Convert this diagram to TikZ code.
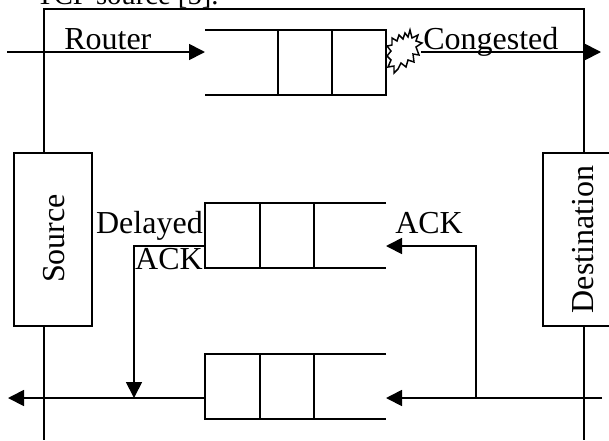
\documentclass[tikz,border=0pt]{standalone}
\usepackage{fontspec}
\setmainfont{Liberation Serif}
\usetikzlibrary{arrows.meta}
\tikzset{
  wire/.style={line width=1.3pt},
  flow/.style={wire,-{Triangle[length=12pt,width=12pt]}},
  hostbox/.style={draw,line width=1.3pt,fill=white,minimum width=58pt,minimum height=130pt,inner sep=0pt},
  txt/.style={font=\fontsize{24}{24}\selectfont,inner sep=0pt}
}
\begin{document}
\begin{tikzpicture}[x=.75pt,y=-.75pt]
  \useasboundingbox (0,0) rectangle (609,440);
  \begin{scope}
    \clip (0,0) rectangle (609,440);
    \node[txt,font=\fontsize{21.5}{24}\selectfont,anchor=base west] (title) at (36,4) {TCP source [5].};
    \node[hostbox] (src) at (53,239.5) {};
    \node[hostbox,minimum width=50.5pt,anchor=west] (dst) at (542,239.5) {};
    \coordinate (lt) at (44,9);
    \coordinate (rt) at (584,9);
    \coordinate (lb) at (44,440);
    \coordinate (rb) at (584,440);
    \draw[wire] (src.north -| lt) -- (lt) -- (rt) -- (dst.north -| rt);
    \draw[wire] (src.south -| lb) -- (lb);
    \draw[wire] (dst.south -| rb) -- (rb);
    \node[txt,rotate=90] (srct) at (54,238.5) {Source};
    \node[txt,rotate=90] (dstt) at (583,239.5) {Destination};
  \end{scope}
  % top queue
  \coordinate (qa1) at (205,30);
  \coordinate (qa2) at (386,30);
  \coordinate (qa3) at (386,95);
  \coordinate (qa4) at (205,95);
  \coordinate (qain) at (205,52);
  \coordinate (aw) at (7,52);
  \coordinate (ae) at (421,52);
  \coordinate (af) at (601,52);
  \draw[wire] (qa1) -- (qa2) -- (qa3) -- (qa4);
  \draw[wire] (278,30) -- (278,95);
  \draw[wire] (332,30) -- (332,95);
  \draw[flow] (aw) -- (qain);
  \draw[flow] (ae) -- (af);
  \draw[line width=1.1pt,fill=white] (392,38) -- (397,41) -- (399,35) -- (403,39) -- (405,33) -- (408,37) -- (410,30) -- (412,38) -- (418,35) -- (416,41) -- (422,43) -- (416,47) -- (419,55) -- (413,54) -- (414,62) -- (408,60) -- (406,67) -- (401,63) -- (398,69) -- (394,73) -- (394,66) -- (388,67) -- (391,60) -- (387,56) -- (391,51) -- (387,46) -- (392,45) -- cycle;
  \node[txt,anchor=base west] (router) at (64,49) {Router};
  \node[txt,anchor=base west] (cong) at (423,49) {Congested};
  % middle queue
  \coordinate (qb1) at (386,203);
  \coordinate (qb2) at (205,203);
  \coordinate (qb3) at (205,268);
  \coordinate (qb4) at (386,268);
  \coordinate (qbin) at (386,246);
  \coordinate (qbout) at (205,246);
  \draw[wire] (qb1) -- (qb2) -- (qb3) -- (qb4);
  \draw[wire] (260,203) -- (260,268);
  \draw[wire] (314,203) -- (314,268);
  \node[txt,anchor=base east] (del) at (203,233) {Delayed};
  \node[txt,anchor=base east] (ackl) at (203,269) {ACK};
  \node[txt,anchor=base west] (ackr) at (395,233) {ACK};
  % bottom queue
  \coordinate (qc1) at (386,354);
  \coordinate (qc2) at (205,354);
  \coordinate (qc3) at (205,419);
  \coordinate (qc4) at (386,419);
  \coordinate (qcin) at (386,398);
  \coordinate (qcout) at (205,398);
  \coordinate (cw) at (8,398);
  \coordinate (ce) at (602,398);
  \coordinate (tap) at (476,398);
  \coordinate (join) at (134,398);
  \draw[wire] (qc1) -- (qc2) -- (qc3) -- (qc4);
  \draw[wire] (260,354) -- (260,419);
  \draw[wire] (314,354) -- (314,419);
  \draw[flow] (ce) -- (qcin);
  \draw[flow] (qcout) -- (cw);
  \draw[flow] (tap) |- (qbin);
  \draw[flow] (qbout) -| (join);
\end{tikzpicture}
\end{document}
